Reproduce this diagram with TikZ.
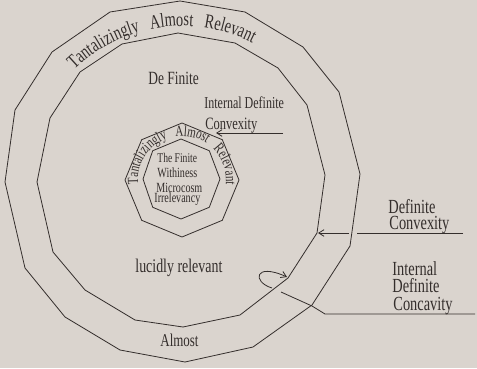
\documentclass[tikz,border=0pt]{standalone}
\usepackage{fontspec}
\setmainfont{Liberation Serif}[FakeStretch=0.72]
\usetikzlibrary{decorations.text, arrows.meta, calc}
\definecolor{bg}{RGB}{218,212,206}
\definecolor{ink}{RGB}{52,46,44}
\newcommand\hsz[1]{\fontsize{#1}{#1}\selectfont}
\begin{document}
\begin{tikzpicture}[x=0.75pt, y=0.75pt, line width=0.6pt, draw=ink,
  lbl/.style={anchor=base west, inner sep=0pt, text=ink},
  tip/.style={-{Straight Barb[length=4pt,width=5pt]}},
  ring/.style={draw=ink, line join=round}]
\fill[bg] (0,0) rectangle (477,-368);
\useasboundingbox (0,0) rectangle (477,-368);

% outer ring, outer boundary
\draw[ring] (180,-1) -- (245,-12) -- (303,-47) -- (339,-92) -- (360,-174) -- (350,-246)
  -- (312,-305) -- (253,-347) -- (185,-362) -- (120,-350) -- (65,-317) -- (25,-268)
  -- (5,-182) -- (15,-110) -- (52,-52) -- (110,-12) -- cycle;
% outer ring, inner boundary
\draw[ring] (178,-33) -- (235,-43) -- (278,-68) -- (307,-105) -- (325,-175) -- (317,-233)
  -- (288,-278) -- (240,-315) -- (183,-327) -- (135,-320) -- (85,-290) -- (53,-252)
  -- (37,-182) -- (50,-118) -- (80,-72) -- (122,-44) -- cycle;

% small octagons
\coordinate (C2) at (182,-180);
\draw[ring, shift={(182,-180)}] (90:57) -- (45:57) -- (0:57) -- (-45:57) -- (-90:57)
  -- (-135:57) -- (180:57) -- (135:57) -- cycle;
\draw[ring, shift={(181,-179)}] (90:40) -- (45:40) -- (0:39) -- (-45:40) -- (-90:40)
  -- (-135:40) -- (180:38) -- (135:40) -- cycle;

% curved texts
\coordinate (C) at (182,-181);
\path[decorate, decoration={text along path,
   text={|\color{ink}\hsz{15}|Tantalizingly Almost Relevant},
   text align={fit to path stretching spaces}}]
  ($(C)+(134:155)$) arc[start angle=134, end angle=63, radius=155];
\path[decorate, decoration={text along path,
   text={|\color{ink}\hsz{11.5}|Tantalizingly Almost Relevant},
   text align={fit to path stretching spaces}}]
  ($(C2)+(186:44)$) arc[start angle=186, end angle=-6, radius=44];

% labels
\node[lbl, font=\hsz{14}] (definiteTop) at (148,-84) {De Finite};
\node[lbl, font=\hsz{12.5}] (intdef) at (204,-108) {Internal Definite};
\node[lbl, font=\hsz{13}] (convexA) at (205,-129) {Convexity};
\node[lbl, font=\hsz{10}] (finite) at (157,-162) {The Finite};
\node[lbl, font=\hsz{10.5}] (withi) at (157,-177) {Withiness};
\node[lbl, font=\hsz{10.5}] (micro) at (156,-192) {Microcosm};
\node[lbl, font=\hsz{10.5}] (irrel) at (154,-202) {Irrelevancy};
\node[lbl, font=\hsz{14.5}] (lucid) at (135,-272) {lucidly relevant};
\node[lbl, font=\hsz{13.5}] (almost) at (160,-346) {Almost};
\node[lbl, font=\hsz{15}] (defR) at (388,-213) {Definite};
\node[lbl, font=\hsz{15}] (convR) at (389,-229) {Convexity};
\node[lbl, font=\hsz{15}] (intR) at (392,-275) {Internal};
\node[lbl, font=\hsz{15}] (defR2) at (392,-292) {Definite};
\node[lbl, font=\hsz{15}] (concR) at (393,-310) {Concavity};

% connectors
\coordinate (idcA) at (283,-133);
\coordinate (idcB) at (216,-133);
\draw[tip] (idcA) -- (idcB);

\coordinate (dcA) at (463,-233);
\coordinate (dcB) at (357,-233);
\coordinate (dcC) at (349,-233);
\coordinate (dcD) at (318,-233);
\draw (dcA) -- (dcB);
\draw[tip] (dcC) -- (dcD);

\coordinate (iccA) at (475,-314);
\coordinate (iccB) at (325,-314);
\coordinate (iccC) at (312,-306);
\coordinate (iccD) at (281,-292);
\coordinate (iccE) at (272,-288);
\coordinate (iccF) at (287,-277);
\draw (iccA) -- (iccB) -- (iccC) -- (iccD);
\draw[tip] (iccE) .. controls (252,-282) and (254,-262) .. (iccF);
\end{tikzpicture}
\end{document}
